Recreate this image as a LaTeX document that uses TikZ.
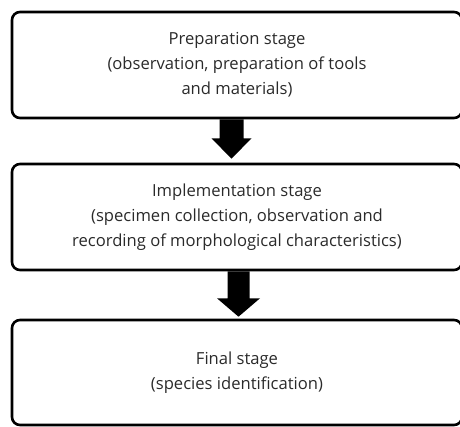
\documentclass[tikz,border=0pt]{standalone}
\usepackage{fontspec}
\setmainfont{Open Sans}
\usetikzlibrary{calc}
\definecolor{txt}{HTML}{2A2A2A}
\tikzset{
  stagebox/.style={draw=black, line width=2.6pt, rounded corners=8pt, minimum width=450pt, minimum height=106pt, align=center, text=txt, font=\fontsize{16.6pt}{25pt}\selectfont, inner sep=0pt},
  blockarrow/.style={fill=black, draw=none}
}
\begin{document}
\begin{tikzpicture}[x=1pt,y=1pt]
\useasboundingbox (0,0) rectangle (460,-426);
\node[stagebox] (b1) at (237,-65) {Preparation stage\\(observation, preparation of tools\\and materials)};
\node[stagebox] (b2) at (237,-217) {Implementation stage\\(specimen collection, observation and\\recording of morphological characteristics)};
\node[stagebox, minimum height=105pt] (b3) at (237,-372.5) {Final stage\\(species identification)};
% arrow 1
\fill[blockarrow] ($(b1.south)+(-17.5,0)$) -- ($(b1.south)+(6.5,0)$) -- ($(b1.south)+(6.5,-19)$) -- ($(b1.south)+(14.5,-19)$)
  -- ($(b2.north)+(-5.5,4)$) -- ($(b1.south)+(-25.5,-19)$) -- ($(b1.south)+(-17.5,-19)$) -- cycle;
% arrow 2
\fill[blockarrow] ($(b2.south)+(-9.5,0)$) -- ($(b2.south)+(12.5,0)$) -- ($(b2.south)+(12.5,-27)$) -- ($(b2.south)+(23,-27)$)
  -- ($(b3.north)+(1.5,2)$) -- ($(b2.south)+(-20,-27)$) -- ($(b2.south)+(-9.5,-27)$) -- cycle;
\end{tikzpicture}
\end{document}
